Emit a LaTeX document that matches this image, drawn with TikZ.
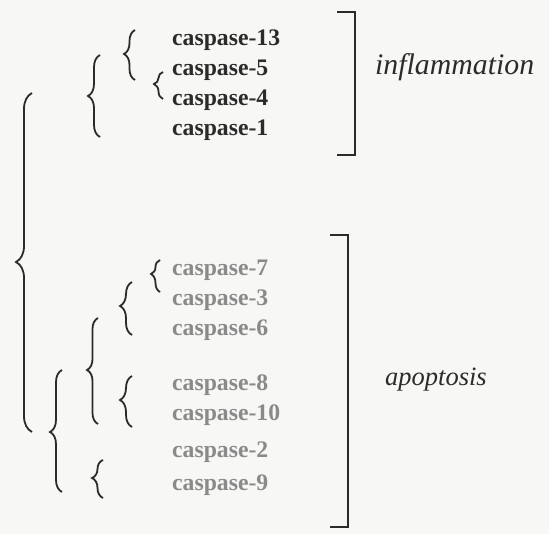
\documentclass[tikz,border=0pt]{standalone}
\usepackage{fontspec}
\setmainfont{Liberation Serif}
\usetikzlibrary{decorations.pathreplacing}

\definecolor{inkdark}{HTML}{2B2B2B}
\definecolor{inkgray}{HTML}{8A8A8A}
\definecolor{paper}{HTML}{F7F7F5}

\tikzset{
  casp/.style={anchor=mid west, inner sep=0pt, font=\fontsize{23.7}{28}\selectfont\bfseries},
  inflam/.style={casp, text=inkdark},
  apopt/.style={casp, text=inkgray},
  group/.style={anchor=mid west, inner sep=0pt, text=inkdark, font=\fontsize{#1}{32}\selectfont\itshape},
  curly/.style={draw=inkdark, line width=1.8pt, decorate},
  bracket/.style={draw=inkdark, line width=1.8pt},
}

% a left-pointing curly brace: name, x of its ends, top y, bottom y, tip y, amplitude
\newcommand\curlybrace[6]{%
  \pgfmathsetmacro\brasp{(#4-#5)/(#4-#3)}%
  \coordinate (#1-t) at (#2,#3);
  \coordinate (#1-b) at (#2,#4);
  \draw[curly, decoration={brace, amplitude=#6pt, aspect=\brasp}] (#1-b) -- (#1-t);
}

\begin{document}
\begin{tikzpicture}[x=1pt, y=-1pt]
  \fill[paper] (0,0) rectangle (549,534);
  \useasboundingbox (0,0) rectangle (549,534);

  % inflammatory caspases
  \node[inflam] (c13) at (172,43)  {caspase-13};
  \node[inflam] (c5)  at (172,73)  {caspase-5};
  \node[inflam] (c4)  at (172,103) {caspase-4};
  \node[inflam] (c1)  at (172,133) {caspase-1};

  % apoptotic caspases
  \node[apopt] (c7)  at (172,273) {caspase-7};
  \node[apopt] (c3)  at (172,303) {caspase-3};
  \node[apopt] (c6)  at (172,333) {caspase-6};
  \node[apopt] (c8)  at (172,388) {caspase-8};
  \node[apopt] (c10) at (172,418) {caspase-10};
  \node[apopt] (c2)  at (172,455) {caspase-2};
  \node[apopt] (c9)  at (172,488) {caspase-9};

  % dendrogram braces
  \curlybrace{bA}{135}{30}{80}{54}{11}
  \curlybrace{bB}{163}{72}{99}{84}{9}
  \curlybrace{bC}{100}{55}{137}{96}{12}
  \curlybrace{bD}{32}{93}{432}{262}{16}
  \curlybrace{bE}{160}{260}{292}{274}{9}
  \curlybrace{bI}{132}{282}{335}{306}{12}
  \curlybrace{bG}{98}{318}{424}{370}{11}
  \curlybrace{bJ}{132}{376}{427}{400}{12}
  \curlybrace{bF}{62}{370}{492}{432}{12}
  \curlybrace{bH}{103}{460}{498}{478}{11}

  % group brackets and labels
  \coordinate (inf-t) at (337,12);
  \coordinate (inf-b) at (337,155);
  \draw[bracket] (inf-t) -- ++(18,0) |- (inf-b);
  \node[group=29.8] (infl) at (375,72) {inflammation};

  \coordinate (apo-t) at (330,235);
  \coordinate (apo-b) at (330,527);
  \draw[bracket] (apo-t) -- ++(18,0) |- (apo-b);
  \node[group=26.5] (apop) at (385,383) {apoptosis};
\end{tikzpicture}
\end{document}
